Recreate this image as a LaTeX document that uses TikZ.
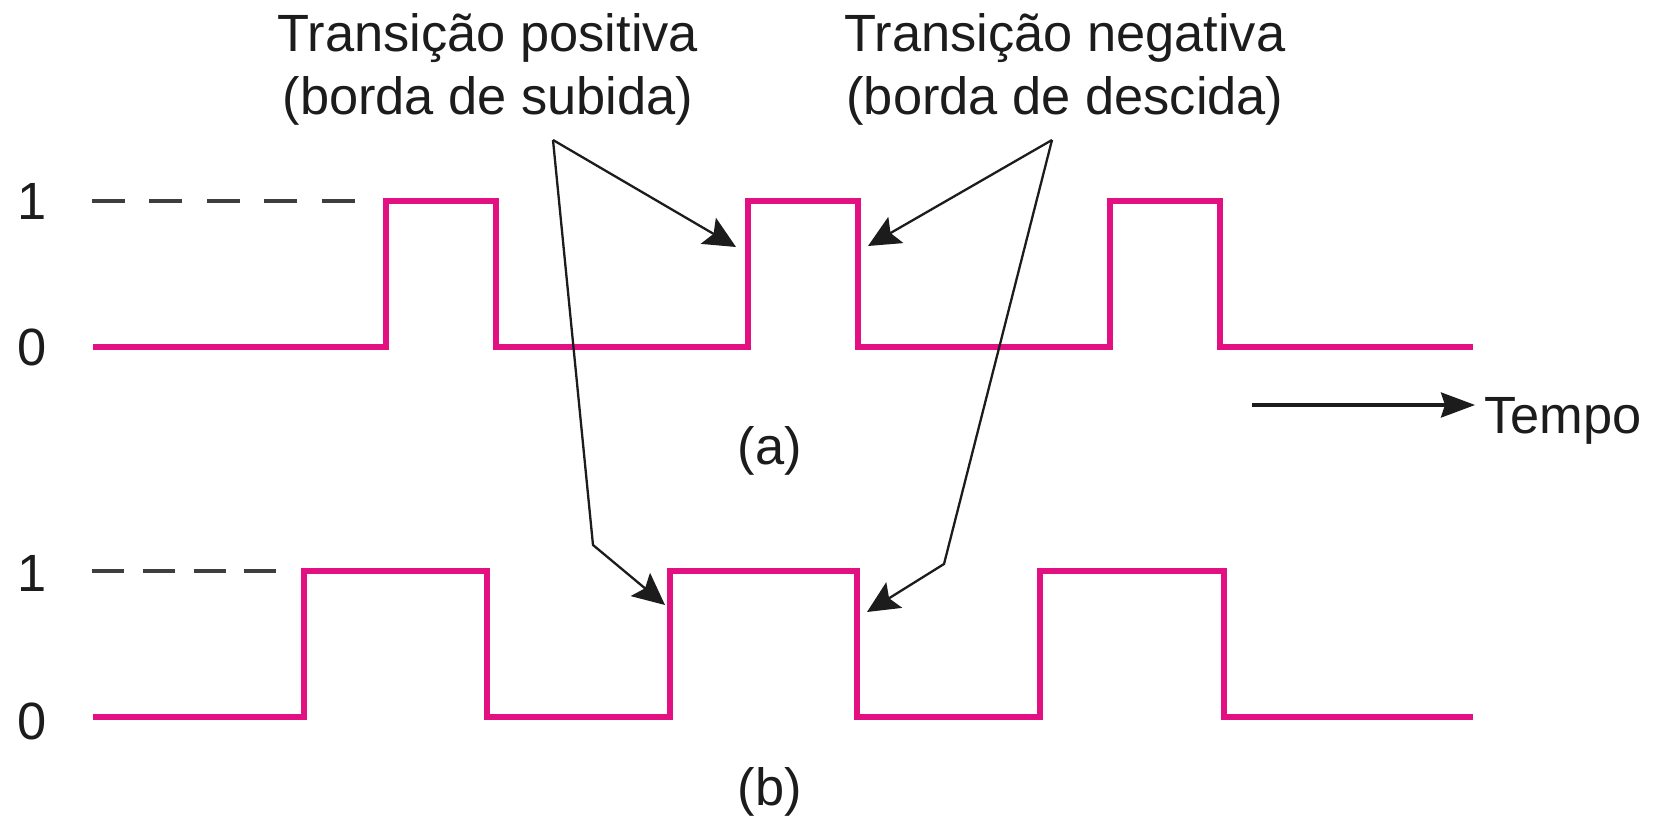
\documentclass[tikz,border=0pt]{standalone}
\usepackage{fontspec}
\setmainfont{Liberation Sans}
\usetikzlibrary{arrows.meta}
\definecolor{sig}{RGB}{226,16,128}
\definecolor{ink}{RGB}{28,28,28}
\begin{document}
\begin{tikzpicture}[x=0.5pt,y=-0.5pt,
  wave/.style={draw=sig,line width=3.3pt},
  txt/.style={inner sep=0pt,outer sep=0pt,text=ink,font=\fontsize{26.2}{31.5}\selectfont},
  pointer/.style={draw=ink,line width=1.15pt,-{Stealth[length=16pt,width=15pt,inset=3pt]}},
  timearrow/.style={draw=ink,line width=1.7pt,-{Stealth[length=17pt,width=12.5pt,inset=2pt]}},
  levelline/.style={draw=ink!85,line width=1.7pt}]
\useasboundingbox (0,0) rectangle (1663,823);

% headings
\node[txt,anchor=base] (pos1) at (488,52) {Transição positiva};
\node[txt,anchor=base] (pos2) at (488,115) {(borda de subida)};
\node[txt,anchor=base] (neg1) at (1065,52) {Transição negativa};
\node[txt,anchor=base] (neg2) at (1065,115) {(borda de descida)};

% logic level labels
\node[txt] (a1) at (32,201) {1};
\node[txt] (a0) at (32,347) {0};
\node[txt] (b1) at (32,573) {1};
\node[txt] (b0) at (32,721) {0};

% dashed reference lines for level 1
\coordinate (da0) at (92,201);  \coordinate (da1) at (355,201);
\coordinate (db0) at (92,571);  \coordinate (db1) at (281,571);
\draw[levelline,dash pattern=on 16.5pt off 12.2pt] (da0) -- (da1);
\draw[levelline,dash pattern=on 16pt off 9.4pt] (db0) -- (db1);

% waveform (a)
\draw[wave] (93,347) -- (386,347) -- (386,201) -- (496,201) -- (496,347)
  -- (748,347) -- (748,201) -- (858,201) -- (858,347)
  -- (1110,347) -- (1110,201) -- (1220,201) -- (1220,347) -- (1473,347);

% waveform (b)
\draw[wave] (93,717) -- (304,717) -- (304,571) -- (487,571) -- (487,717)
  -- (670,717) -- (670,571) -- (857,571) -- (857,717)
  -- (1040,717) -- (1040,571) -- (1224,571) -- (1224,717) -- (1473,717);

% captions
\node[txt] (capa) at (770,451) {(a)};
\node[txt] (capb) at (770,792) {(b)};

% time axis
\node[txt,anchor=base west] (tempo) at (1484,433) {Tempo};
\coordinate (tstart) at (1252,405);
\draw[timearrow,shorten >=4.5pt] (tstart) -- (tstart -| tempo.west);

% pointers to the edges
\coordinate (apexP) at (553,140);
\coordinate (apexN) at (1052,140);
\coordinate (kneeP) at (593,545);
\coordinate (kneeN) at (944,564);
\coordinate (tipPa) at (736,247);
\coordinate (tipPb) at (665,605);
\coordinate (tipNa) at (868,246);
\coordinate (tipNb) at (867,612);
\draw[pointer] (apexP) -- (tipPa);
\draw[pointer] (apexP) -- (kneeP) -- (tipPb);
\draw[pointer] (apexN) -- (tipNa);
\draw[pointer] (apexN) -- (kneeN) -- (tipNb);
\end{tikzpicture}
\end{document}
